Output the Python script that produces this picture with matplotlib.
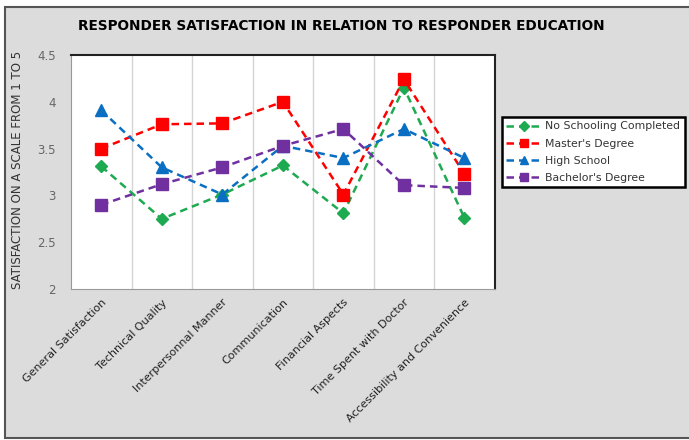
import matplotlib.pyplot as plt
from matplotlib.patches import Rectangle

# Categories and mean satisfaction per education level
categories = ["General Satisfaction", "Technical Quality", "Interpersonnal Manner",
              "Communication", "Financial Aspects", "Time Spent with Doctor",
              "Accessibility and Convenience"]
no_schooling = [3.31, 2.75, 3.01, 3.32, 2.81, 4.15, 2.76]
masters = [3.50, 3.76, 3.77, 4.00, 3.01, 4.24, 3.23]
high_school = [3.91, 3.30, 3.01, 3.53, 3.40, 3.71, 3.40]
bachelors = [2.90, 3.12, 3.30, 3.53, 3.71, 3.11, 3.08]

series = [
    ("No Schooling Completed", no_schooling, "#1daa50", "D", 6),
    ("Master's Degree", masters, "#ff0000", "s", 8),
    ("High School", high_school, "#0a6fc2", "^", 8),
    ("Bachelor's Degree", bachelors, "#7030a0", "s", 8),
]

fig = plt.figure(figsize=(6.89, 4.40), dpi=100)
fig.patch.set_facecolor("#dcdcdc")

# outer frame of the picture
fig.patches.append(Rectangle((0, 0), 1, 1, transform=fig.transFigure,
                             facecolor="white", edgecolor="none", zorder=-2))
fig.patches.append(Rectangle((5 / 689, 2 / 440), 1.1, 1 - 9 / 440, transform=fig.transFigure,
                             facecolor="#dcdcdc", edgecolor="#555555", lw=1.5, zorder=-1))

ax = fig.add_axes([0.103, 0.343, 0.615, 0.532])
x = list(range(len(categories)))
handles = []
for name, vals, col, mk, ms in series:
    h, = ax.plot(x, vals, color=col, ls=(0, (3, 2)), lw=1.8, marker=mk, ms=ms,
                 markerfacecolor=col, markeredgecolor=col, label=name)
    handles.append(h)

ax.set_xlim(-0.5, 6.5)
ax.set_ylim(2, 4.5)
ax.set_yticks([2, 2.5, 3, 3.5, 4, 4.5])
ax.set_yticklabels(["2", "2.5", "3", "3.5", "4", "4.5"], fontsize=8.5, color="#666666")
ax.set_xticks(x)
ax.set_xticklabels(categories, rotation=45, ha="right", rotation_mode="anchor",
                   fontsize=8, color="#222222")
ax.tick_params(axis="x", length=0, pad=6)
ax.tick_params(axis="y", length=0, pad=11)
for b in [i + 0.5 for i in range(len(categories) - 1)]:
    ax.axvline(b, color="#d4d4d4", lw=1, zorder=0)
ax.spines["top"].set_color("#222222")
ax.spines["right"].set_color("#222222")
ax.spines["left"].set_color("#999999")
ax.spines["bottom"].set_color("#999999")
ax.spines["top"].set_linewidth(1.5)
ax.spines["right"].set_linewidth(1.5)

ax.set_ylabel("SATISFACTION ON A SCALE FROM 1 TO 5", fontsize=8.5, color="#333333")
ax.yaxis.set_label_coords(-0.112, 0.51)

fig.text(0.495, 0.94, "RESPONDER SATISFACTION IN RELATION TO RESPONDER EDUCATION",
         ha="center", va="center", fontsize=9.8, fontweight="heavy", color="black")

leg = fig.legend(handles=handles, loc="upper left", bbox_to_anchor=(0.728, 0.735),
                 fontsize=7.8, frameon=True, fancybox=False, framealpha=1,
                 handlelength=3.2, markerscale=0.8, borderpad=0.45, labelspacing=0.65,
                 handletextpad=0.4, borderaxespad=0)
leg.get_frame().set_edgecolor("black")
leg.get_frame().set_facecolor("white")
leg.get_frame().set_linewidth(1.8)
for t in leg.get_texts():
    t.set_color("#333333")

fig.savefig("out.png", dpi=100, facecolor=fig.get_facecolor())
